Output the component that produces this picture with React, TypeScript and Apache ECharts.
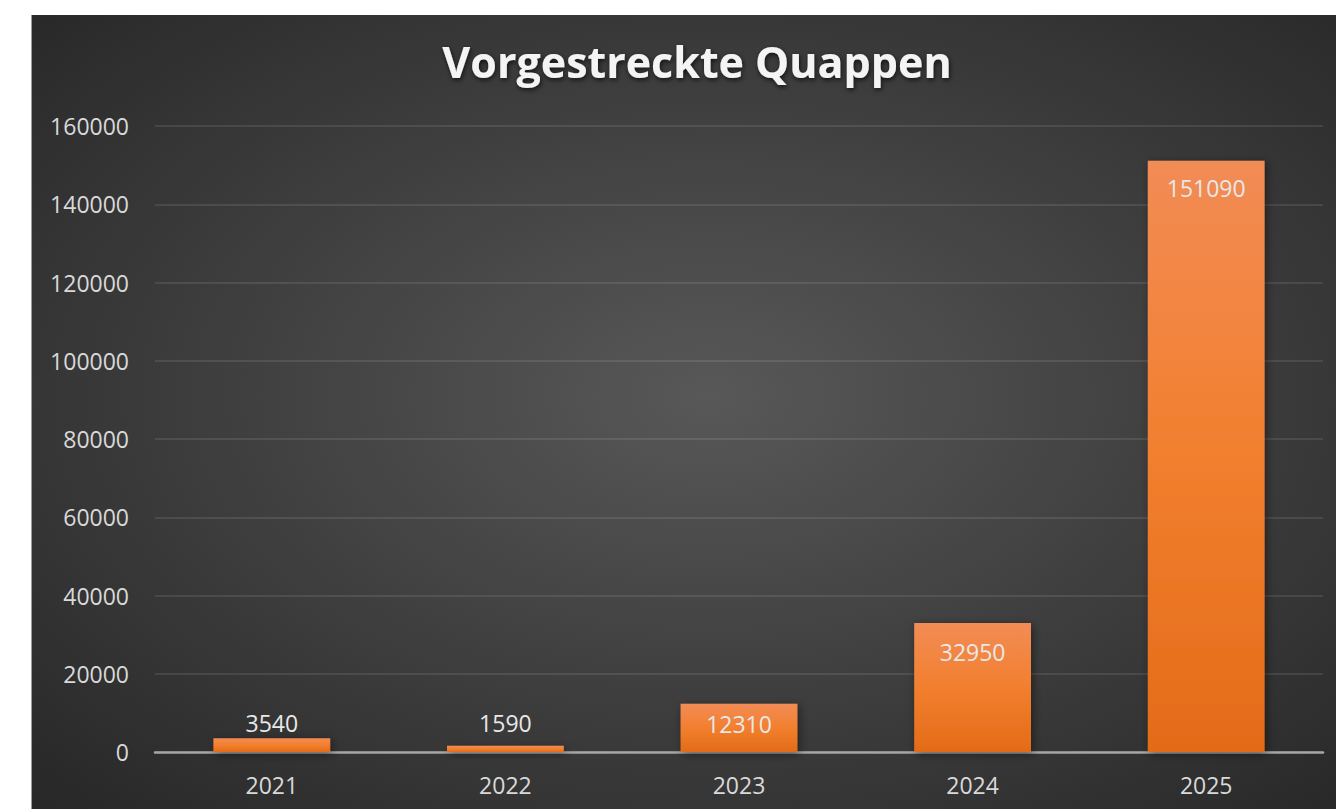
import React, { useEffect, useRef } from "react";
import * as echarts from "echarts";

const categories = ["2021", "2022", "2023", "2024", "2025"];
const values = [3540, 1590, 12310, 32950, 151090];
const yTicks = { min: 0, max: 160000, interval: 20000 };
const titleText = "Vorgestreckte Quappen";

export default function App() {
  const ref = useRef<HTMLDivElement>(null);
  useEffect(() => {
    if (!ref.current) return;
    const chart = echarts.init(ref.current, null, { renderer: "svg" });
    const labelPos: any[] = [
      { position: "top", distance: 4 },
      { position: "top", distance: 11 },
      { position: "insideTop", distance: 9 },
      { position: "insideTop", distance: 17 },
      { position: "insideTop", distance: 16 },
    ];
    chart.setOption({
      animation: false,
      backgroundColor: "transparent",
      title: {
        text: titleText,
        left: 692,
        top: 35,
        textAlign: "center",
        textStyle: {
          fontFamily: "Open Sans",
          fontWeight: "bold",
          fontSize: 43,
          color: "#f4f4f4",
          textShadowColor: "rgba(0,0,0,0.7)",
          textShadowBlur: 5,
          textShadowOffsetX: 1,
          textShadowOffsetY: 2,
        },
      },
      grid: { left: 155, right: 13, top: 126, bottom: 57, containLabel: false },
      xAxis: {
        type: "category",
        data: categories,
        axisLine: { lineStyle: { color: "#a6a6a6", width: 2.5 } },
        axisTick: { show: false },
        axisLabel: {
          color: "#d9d9d9",
          fontFamily: "Open Sans",
          fontSize: 23,
          margin: 21,
        },
      },
      yAxis: {
        type: "value",
        min: yTicks.min,
        max: yTicks.max,
        interval: yTicks.interval,
        axisLine: { show: false },
        axisTick: { show: false },
        splitLine: { lineStyle: { color: "rgba(255,255,255,0.13)", width: 1.5 } },
        axisLabel: {
          color: "#d9d9d9",
          fontFamily: "Open Sans",
          fontSize: 23,
          margin: 26,
          formatter: (v: number) => String(v),
        },
      },
      series: [
        {
          type: "bar",
          barWidth: "50%",
          data: values.map((v, i) => ({
            value: v,
            label: labelPos[i],
          })),
          itemStyle: {
            color: new echarts.graphic.LinearGradient(0, 0, 0, 1, [
              { offset: 0, color: "#f28c55" },
              { offset: 0.5, color: "#f27f2e" },
              { offset: 1, color: "#e36b18" },
            ]),
            shadowColor: "rgba(0,0,0,0.45)",
            shadowBlur: 10,
            shadowOffsetX: 2,
            shadowOffsetY: 2,
          },
          label: {
            show: true,
            color: "#e8e8e8",
            fontFamily: "Open Sans",
            fontSize: 23,
          },
        },
      ],
    });
    return () => chart.dispose();
  }, []);

  return (
    <div
      style={{
        position: "fixed",
        left: 0,
        top: 0,
        width: 1336,
        height: 809,
        background: "#ffffff",
        overflow: "hidden",
      }}
    >
      <div
        style={{
          position: "absolute",
          left: 31,
          top: 15,
          width: 1305,
          height: 794,
          borderLeft: "1px solid #9a9a9a",
          boxSizing: "border-box",
          background:
            "radial-gradient(ellipse 75% 75% at 52% 48%, #585858 0%, #3c3c3c 55%, #262626 100%)",
        }}
      />
      <div
        ref={ref}
        style={{ position: "absolute", left: 0, top: 0, width: 1336, height: 809 }}
      />
    </div>
  );
}
